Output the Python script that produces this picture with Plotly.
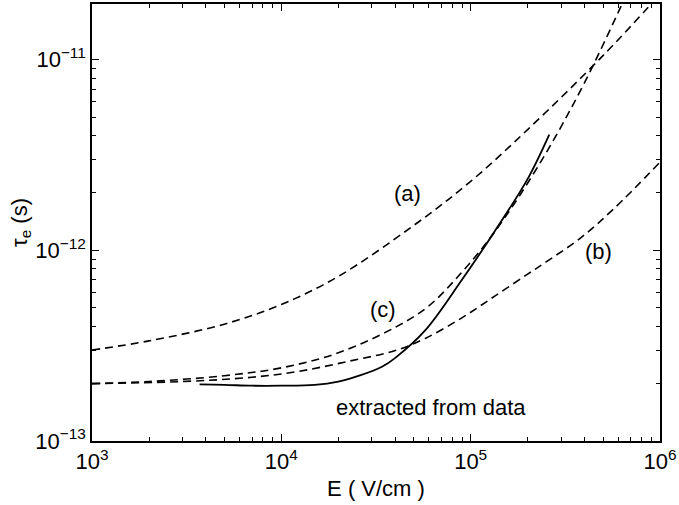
import plotly.graph_objects as go

# Field strength E (V/cm) and relaxation time tau_e (s) for each curve
E_a = [1e3, 2e3, 5e3, 1e4, 2e4, 5e4, 1e5, 2e5, 5e5, 1e6]
tau_a = [3.0e-13, 3.35e-13, 4.1e-13, 5.2e-13, 7.3e-13, 1.35e-12, 2.3e-12, 4.3e-12, 1.05e-11, 2.2e-11]

E_b = [1e3, 3e3, 7e3, 1.24e4, 2.27e4, 4e4, 5.75e4, 8.9e4, 1.34e5, 2e5, 2.55e5, 3.8e5, 5.73e5, 1e6]
tau_b = [2.0e-13, 2.05e-13, 2.16e-13, 2.32e-13, 2.62e-13, 2.98e-13, 3.45e-13, 4.4e-13, 5.75e-13,
         7.5e-13, 8.8e-13, 1.16e-12, 1.66e-12, 2.9e-12]

E_c = [1e3, 2e3, 5e3, 1e4, 2e4, 4e4, 6e4, 9e4, 1.34e5, 2.34e5, 4e5, 7e5]
tau_c = [2.0e-13, 2.05e-13, 2.2e-13, 2.42e-13, 2.9e-13, 3.95e-13, 5.1e-13, 7.7e-13, 1.25e-12,
         2.9e-12, 7.6e-12, 2.46e-11]

E_data = [3.7e3, 5e3, 7e3, 1e4, 1.5e4, 2e4, 2.65e4, 3.4e4, 4e4, 5.75e4, 8.9e4, 1.34e5, 2e5, 2.6e5]
tau_data = [1.98e-13, 1.97e-13, 1.95e-13, 1.95e-13, 1.97e-13, 2.05e-13, 2.22e-13, 2.45e-13,
            2.73e-13, 3.8e-13, 6.9e-13, 1.26e-12, 2.37e-12, 4.05e-12]

x_ticks = [1e3, 1e4, 1e5, 1e6]
x_ticktext = ["10<sup>3</sup>", "10<sup>4</sup>", "10<sup>5</sup>", "10<sup>6</sup>"]
y_ticks = [1e-13, 1e-12, 1e-11]
y_ticktext = ["10<sup>\u221213</sup>", "10<sup>\u221212</sup>", "10<sup>\u221211</sup>"]

x_minor = [k * 10 ** d for d in (3, 4, 5) for k in range(2, 10)]
y_minor = [k * 10.0 ** d for d in (-13, -12) for k in range(2, 10)]

FONT = "Liberation Sans, Arial, sans-serif"

fig = go.Figure()
dash_style = dict(color="black", width=1.6, dash="8px,5px", shape="spline", smoothing=1.0)
for E, tau in ((E_a, tau_a), (E_b, tau_b), (E_c, tau_c)):
    fig.add_trace(go.Scatter(x=E, y=tau, mode="lines", line=dash_style, showlegend=False))
fig.add_trace(go.Scatter(x=E_data, y=tau_data, mode="lines",
                         line=dict(color="black", width=1.8, shape="spline", smoothing=1.0),
                         showlegend=False))

axis_common = dict(
    showline=True, linecolor="black", linewidth=1.5, mirror="ticks",
    ticks="inside", ticklen=7, tickwidth=1.3, tickcolor="black",
    showgrid=False, zeroline=False, ticklabeloverflow="allow",
    tickfont=dict(family=FONT, size=22, color="black"),
)

fig.update_xaxes(
    type="log", range=[3, 6], tickmode="array", tickvals=x_ticks, ticktext=x_ticktext,
    title=dict(text="E ( V/cm )", font=dict(family=FONT, size=22, color="black"), standoff=7),
    minor=dict(tickmode="array", tickvals=x_minor, ticks="inside", ticklen=4,
               tickwidth=1, tickcolor="black", showgrid=False),
    **axis_common,
)
fig.update_yaxes(
    type="log", range=[-13, -10.708], tickmode="array", tickvals=y_ticks, ticktext=y_ticktext,
    title=dict(text="\u03c4<sub>e</sub> (s)", font=dict(family=FONT, size=22, color="black"), standoff=2),
    minor=dict(tickmode="array", tickvals=y_minor, ticks="inside", ticklen=4,
               tickwidth=1, tickcolor="black", showgrid=False),
    **axis_common,
)

# Curve labels, placed in log10 axis coordinates
labels = [
    ("(a)", 4.666, -11.703),
    ("(b)", 5.674, -12.005),
    ("(c)", 4.539, -12.3125),
    ("extracted from data", 4.792, -12.823),
]
for text, lx, ly in labels:
    fig.add_annotation(x=lx, y=ly, xref="x", yref="y", text=text, showarrow=False,
                       font=dict(family=FONT, size=22, color="black"))

fig.update_layout(
    width=679, height=505,
    margin=dict(l=92, r=16, t=2, b=64),
    paper_bgcolor="white", plot_bgcolor="white",
)

fig.write_html("out.html")
